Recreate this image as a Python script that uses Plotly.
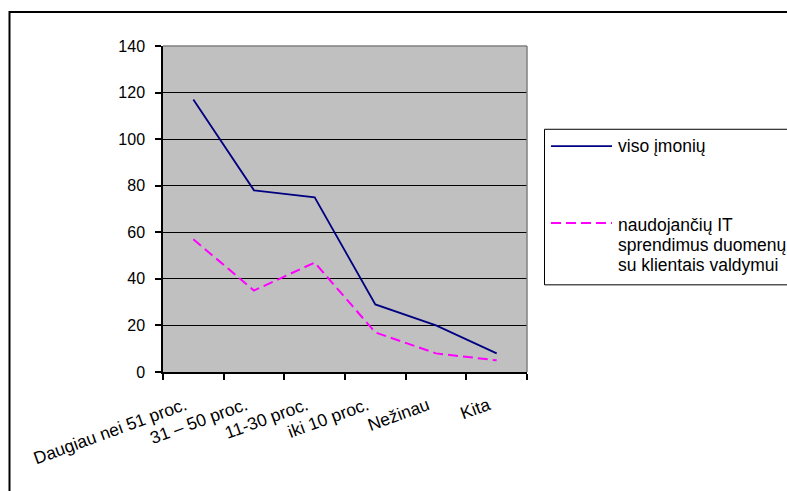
import plotly.graph_objects as go

categories = ["Daugiau nei 51 proc.", "31 – 50 proc.", "11-30 proc.", "iki 10 proc.", "Nežinau", "Kita"]
viso_imoniu = [117, 78, 75, 29, 20, 8]
naudojanciu = [57, 35, 47, 17, 8, 5]
series_names = ["viso įmonių", "naudojančių IT sprendimus duomenų su klientais valdymui"]
legend_lines_2 = ["naudojančių IT", "sprendimus duomenų", "su klientais valdymui"]
y_ticks = [0, 20, 40, 60, 80, 100, 120, 140]

W, H = 787, 491
L, R, T, B = 163, 527, 45.5, 372.4

def px(X):
    return (X - L) / (R - L)

def py(Y):
    return (B - Y) / (B - T)

FONT = "Liberation Sans, Arial, sans-serif"

fig = go.Figure()
fig.add_trace(go.Scatter(x=categories, y=viso_imoniu, mode="lines", name=series_names[0],
                         line=dict(color="#000080", width=1.8), showlegend=False))
fig.add_trace(go.Scatter(x=categories, y=naudojanciu, mode="lines", name=series_names[1],
                         line=dict(color="#FF00FF", width=2, dash="10px,5px"), showlegend=False))

shapes = []
# outer chart border (left and top visible)
shapes.append(dict(type="rect", xref="paper", yref="paper",
                   x0=px(9.5), x1=px(820), y0=py(11.5), y1=py(520),
                   line=dict(color="black", width=2), fillcolor="rgba(0,0,0,0)", layer="above"))
# plot area gray border top/right
shapes.append(dict(type="line", xref="paper", yref="paper", x0=0, x1=1, y0=1, y1=1,
                   line=dict(color="#808080", width=1.5)))
shapes.append(dict(type="line", xref="paper", yref="paper", x0=1, x1=1, y0=0, y1=1,
                   line=dict(color="#808080", width=1.5)))
# legend box
shapes.append(dict(type="rect", xref="paper", yref="paper",
                   x0=px(544.5), x1=px(820), y0=py(129), y1=py(285),
                   line=dict(color="black", width=1), fillcolor="white"))
# legend samples
shapes.append(dict(type="line", xref="paper", yref="paper", x0=px(551), x1=px(612),
                   y0=py(146), y1=py(146), line=dict(color="#000080", width=1.8)))
shapes.append(dict(type="line", xref="paper", yref="paper", x0=px(551), x1=px(612),
                   y0=py(223), y1=py(223), line=dict(color="#FF00FF", width=2, dash="10px,5px")))

annotations = []
annotations.append(dict(xref="paper", yref="paper", x=px(616), y=py(146), text=series_names[0],
                        showarrow=False, xanchor="left", yanchor="middle",
                        font=dict(family=FONT, size=17.5, color="black")))
for i, t in enumerate(legend_lines_2):
    annotations.append(dict(xref="paper", yref="paper", x=px(616), y=py(225 + 20 * i), text=t,
                            showarrow=False, xanchor="left", yanchor="middle",
                            font=dict(family=FONT, size=17.5, color="black")))

fig.update_layout(
    width=W, height=H,
    margin=dict(l=L, r=W - R, t=T, b=H - B, pad=0),
    paper_bgcolor="white",
    plot_bgcolor="#C0C0C0",
    font=dict(family=FONT, size=16, color="black"),
    shapes=shapes,
    annotations=annotations,
    showlegend=False,
)
fig.update_xaxes(type="category", range=[-0.5, 5.5], tickson="boundaries",
                 tickmode="array", tickvals=categories,
                 ticktext=[c + "\u2002" for c in categories],
                 ticks="outside", ticklen=6, tickwidth=1.5, tickcolor="black",
                 showline=True, linecolor="black", linewidth=1.5,
                 showgrid=False, zeroline=False, tickangle=-20,
                 ticklabelstandoff=12,
                 tickfont=dict(family=FONT, size=17.5, color="black"))
fig.update_yaxes(range=[0, 140], tickvals=y_ticks, ticks="outside", ticklen=6,
                 tickwidth=1.5, tickcolor="black", showline=True, linecolor="black",
                 linewidth=1.5, showgrid=True, gridcolor="black", gridwidth=1.2,
                 zeroline=False, ticklabelstandoff=7,
                 tickfont=dict(family=FONT, size=16, color="black"))

fig.write_html("out.html")
